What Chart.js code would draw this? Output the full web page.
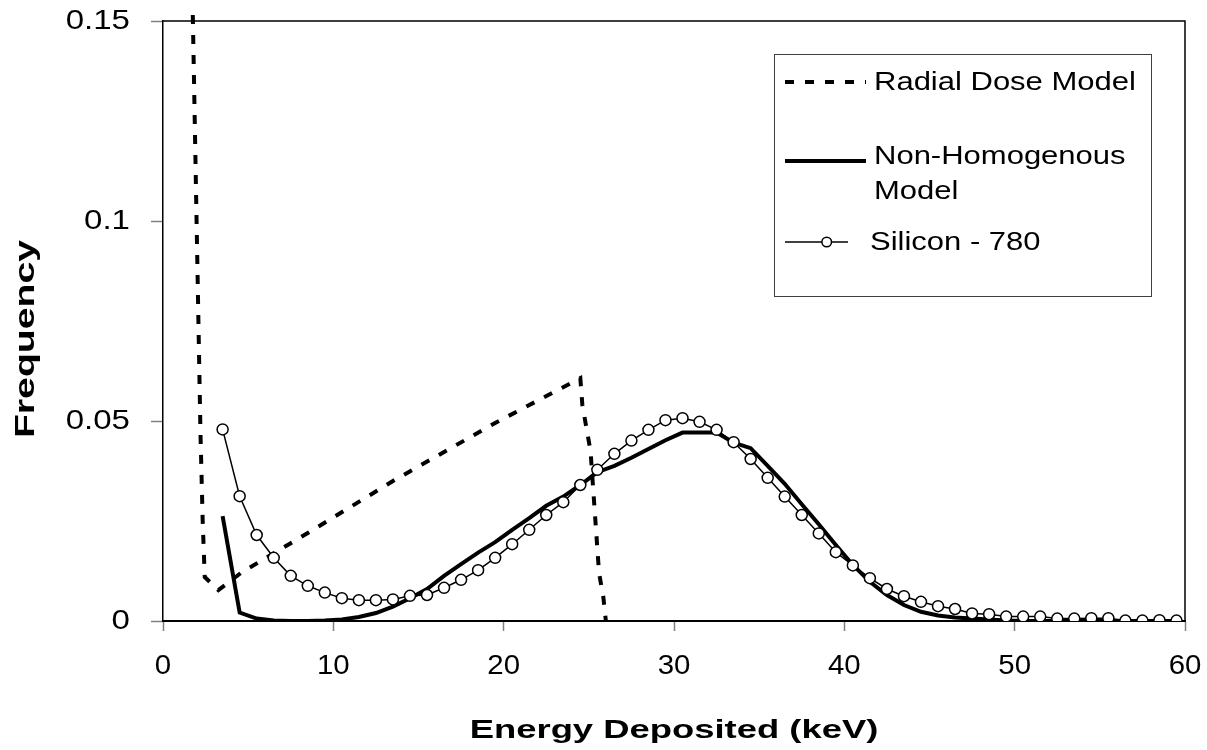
<!DOCTYPE html>
<html>
<head>
<meta charset="utf-8">
<script src="https://cdn.jsdelivr.net/npm/chart.js@4.4.1/dist/chart.umd.min.js"></script>
<style>
  body { margin: 0; background: #fff; }
  canvas { display: block; }
</style>
</head>
<body>
<canvas id="energyChart" width="1207" height="750"></canvas>
<script>
// energy bins (keV) shared by the measured data and the non-homogenous model
const energyBins = [
    3.5, 4.5, 5.5, 6.5, 7.5, 8.5, 9.5, 10.5, 11.5, 12.5,
    13.5, 14.5, 15.5, 16.5, 17.5, 18.5, 19.5, 20.5, 21.5, 22.5,
    23.5, 24.5, 25.5, 26.5, 27.5, 28.5, 29.5, 30.5, 31.5, 32.5,
    33.5, 34.5, 35.5, 36.5, 37.5, 38.5, 39.5, 40.5, 41.5, 42.5,
    43.5, 44.5, 45.5, 46.5, 47.5, 48.5, 49.5, 50.5, 51.5, 52.5,
    53.5, 54.5, 55.5, 56.5, 57.5, 58.5, 59.5
];

const siliconFreq = [
    0.0479, 0.0312, 0.0215, 0.0158, 0.0113, 0.0088, 0.0071, 0.0057, 0.0052, 0.0052,
    0.0054, 0.0063, 0.0065, 0.0083, 0.0103, 0.0127, 0.0158, 0.0192, 0.0228, 0.0265,
    0.0297, 0.0340, 0.0378, 0.0418, 0.0451, 0.0478, 0.0502, 0.0507, 0.0498, 0.0478,
    0.0447, 0.0405, 0.0358, 0.0311, 0.0265, 0.0219, 0.0172, 0.0139, 0.0107, 0.0080,
    0.0062, 0.0048, 0.0037, 0.0030, 0.0019, 0.0017, 0.0011, 0.0011, 0.0011, 0.0006,
    0.0006, 0.0007, 0.0007, 0.0001, 0.0001, 0.0002, 0.0001
];

const nonHomogenousFreq = [
    0.0262, 0.0021, 0.0006, 0.0001, 0.0000, 0.0000, 0.0001, 0.0004, 0.0010, 0.0020,
    0.0036, 0.0057, 0.0080, 0.0113, 0.0142, 0.0171, 0.0197, 0.0228, 0.0257, 0.0288,
    0.0311, 0.0340, 0.0372, 0.0388, 0.0408, 0.0430, 0.0452, 0.0471, 0.0471, 0.0471,
    0.0446, 0.0432, 0.0388, 0.0343, 0.0292, 0.0242, 0.0190, 0.0140, 0.0098, 0.0065,
    0.0040, 0.0023, 0.0014, 0.0009, 0.0006, 0.0004, 0.0001, 0, 0, 0,
    0, 0, 0, 0, 0, 0, 0
];

// radial dose model is sampled on its own energies
const radialEnergy = [1.75, 2.2, 2.33, 2.45, 3.25, 4.6, 8.5, 13.5, 19.5, 24.5, 24.62, 25.1, 25.6, 25.85, 26.0];
const radialFreq = [0.1515, 0.047, 0.025, 0.011, 0.0077, 0.0121, 0.0220, 0.0350, 0.0495, 0.0607, 0.054, 0.0425, 0.012, 0.006, 0];

const xTickLabels = ['0', '10', '20', '30', '40', '50', '60'];
const yTickLabels = ['0', '0.05', '0.1', '0.15'];
const legendRows = [['Radial Dose Model'], ['Non-Homogenous', 'Model'], ['Silicon - 780']];

function toPoints(xs, ys) {
    return xs.map((x, i) => ({ x: x, y: ys[i] }));
}

const FONT = '"Liberation Sans", Arial, sans-serif';

// draws text stretched horizontally, the old chart has wide lettering
function wideText(ctx, txt, x, y, sx) {
    ctx.save();
    ctx.translate(x, y);
    ctx.scale(sx, 1);
    ctx.fillText(txt, 0, 0);
    ctx.restore();
}

// plot frame, tick labels, axis titles and the boxed legend (Excel style)
const chartExtras = {
    id: 'chartExtras',
    afterDraw(chart) {
        const { ctx, chartArea: a } = chart;
        const xs = chart.scales.x, ys = chart.scales.y;
        ctx.save();
        ctx.strokeStyle = '#000';
        ctx.lineWidth = 1.5;
        ctx.beginPath();
        ctx.moveTo(a.left, a.top);
        ctx.lineTo(a.right, a.top);
        ctx.lineTo(a.right, a.bottom);
        ctx.stroke();

        // tick labels
        ctx.fillStyle = '#000';
        ctx.font = '28px ' + FONT;
        ctx.textBaseline = 'middle';
        ctx.textAlign = 'center';
        xs.ticks.forEach((t, i) => {
            wideText(ctx, xTickLabels[i], xs.getPixelForValue(t.value), a.bottom + 45, 1.05);
        });
        ctx.textAlign = 'right';
        ys.ticks.forEach((t, i) => {
            wideText(ctx, yTickLabels[i], a.left - 33, ys.getPixelForValue(t.value), 1.18);
        });

        // axis titles
        ctx.font = 'bold 26px ' + FONT;
        ctx.textAlign = 'center';
        ctx.textBaseline = 'alphabetic';
        wideText(ctx, 'Energy Deposited (keV)', (a.left + a.right) / 2, 738, 1.4);

        ctx.save();
        ctx.font = 'bold 28px ' + FONT;
        ctx.translate(34, 339);
        ctx.rotate(-Math.PI / 2);
        wideText(ctx, 'Frequency', 0, 0, 1.4);
        ctx.restore();

        // legend
        ctx.strokeStyle = '#404040';
        ctx.lineWidth = 1;
        ctx.strokeRect(774.5, 54.5, 377, 242);

        const ds = chart.data.datasets;
        const rowY = [82, 161, 242];
        const lineEnd = [866, 866, 848];
        const textX = [874, 874, 870];
        ctx.font = '25px ' + FONT;
        ctx.textAlign = 'left';
        ctx.textBaseline = 'middle';
        ds.forEach((d, i) => {
            ctx.save();
            ctx.strokeStyle = d.borderColor;
            ctx.lineWidth = d.borderWidth;
            ctx.setLineDash(d.borderDash || []);
            ctx.beginPath();
            ctx.moveTo(785, rowY[i]);
            ctx.lineTo(lineEnd[i], rowY[i]);
            ctx.stroke();
            ctx.restore();
            if (d.pointRadius > 0) {
                ctx.beginPath();
                ctx.arc(826.7, rowY[i], 4.8, 0, Math.PI * 2);
                ctx.fillStyle = '#fff';
                ctx.fill();
                ctx.lineWidth = 1.5;
                ctx.strokeStyle = '#000';
                ctx.stroke();
            }
            ctx.fillStyle = '#000';
            const rows = legendRows[i];
            const startY = rows.length > 1 ? rowY[i] - 4 : rowY[i] + 1;
            rows.forEach((txt, j) => {
                wideText(ctx, txt, textX[i], startY + j * 35, 1.24);
            });
        });
        ctx.restore();
    }
};

const ctx = document.getElementById('energyChart').getContext('2d');

new Chart(ctx, {
    type: 'line',
    data: {
        datasets: [{
            label: 'Radial Dose Model',
            data: toPoints(radialEnergy, radialFreq),
            borderColor: '#000',
            borderWidth: 4,
            borderDash: [9, 11],
            pointRadius: 0,
            tension: 0,
            clip: 8,
            order: 2
        }, {
            label: 'Non-Homogenous Model',
            data: toPoints(energyBins, nonHomogenousFreq),
            borderColor: '#000',
            borderWidth: 4,
            pointRadius: 0,
            tension: 0,
            order: 1
        }, {
            label: 'Silicon - 780',
            data: toPoints(energyBins, siliconFreq),
            borderColor: '#000',
            borderWidth: 1.5,
            pointRadius: 5.5,
            pointBorderWidth: 1.5,
            pointBackgroundColor: '#fff',
            pointBorderColor: '#000',
            tension: 0,
            order: 0
        }]
    },
    options: {
        responsive: false,
        animation: false,
        events: [],
        layout: { padding: { top: 21, right: 22, left: 0, bottom: 0 } },
        plugins: {
            legend: { display: false },
            tooltip: { enabled: false }
        },
        scales: {
            x: {
                type: 'linear',
                min: 0,
                max: 60,
                afterFit: (scale) => { scale.height = 129; },
                ticks: { stepSize: 10, display: false },
                grid: {
                    drawOnChartArea: false,
                    drawTicks: true,
                    tickLength: 10,
                    tickWidth: 1.5,
                    tickColor: '#808080'
                },
                border: { color: '#000', width: 2 }
            },
            y: {
                min: 0,
                max: 0.15,
                afterFit: (scale) => { scale.width = 163; },
                ticks: { stepSize: 0.05, display: false },
                grid: {
                    drawOnChartArea: false,
                    drawTicks: true,
                    tickLength: 12,
                    tickWidth: 1.5,
                    tickColor: '#808080'
                },
                border: { color: '#000', width: 1.5 }
            }
        }
    },
    plugins: [chartExtras]
});
</script>
</body>
</html>
